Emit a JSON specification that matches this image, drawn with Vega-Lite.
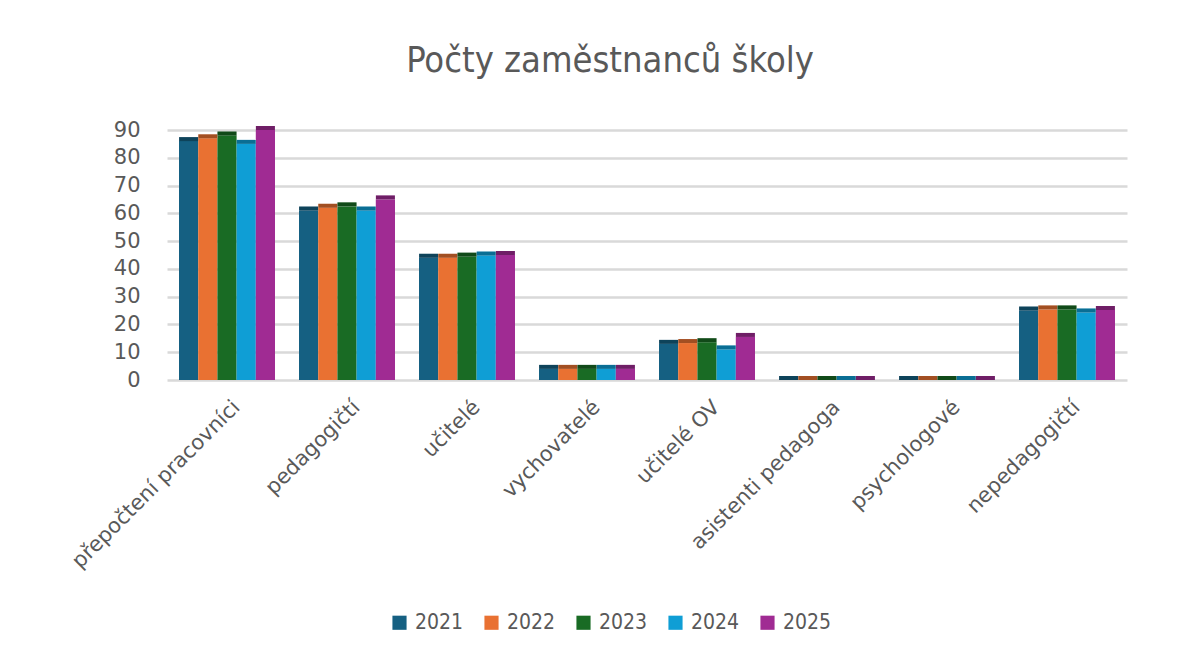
{
  "$schema": "https://vega.github.io/schema/vega-lite/v6.json",
  "autosize": {"type": "none"},
  "width": 960,
  "height": 250,
  "padding": {"left": 167, "top": 130, "right": 69, "bottom": 273},
  "background": "white",
  "title": {
    "text": "Počty zaměstnanců školy",
    "font": "DejaVu Sans Condensed",
    "fontSize": 36,
    "fontWeight": "normal",
    "color": "#595959",
    "anchor": "middle",
    "frame": "group",
    "offset": 39,
    "dx": -37
  },
  "data": {
    "values": [
      {"kategorie": "přepočtení pracovníci", "rok": "2021", "pocet": 86},
      {"kategorie": "přepočtení pracovníci", "rok": "2022", "pocet": 87},
      {"kategorie": "přepočtení pracovníci", "rok": "2023", "pocet": 88},
      {"kategorie": "přepočtení pracovníci", "rok": "2024", "pocet": 85},
      {"kategorie": "přepočtení pracovníci", "rok": "2025", "pocet": 90},
      {"kategorie": "pedagogičtí", "rok": "2021", "pocet": 61},
      {"kategorie": "pedagogičtí", "rok": "2022", "pocet": 62},
      {"kategorie": "pedagogičtí", "rok": "2023", "pocet": 62.5},
      {"kategorie": "pedagogičtí", "rok": "2024", "pocet": 61},
      {"kategorie": "pedagogičtí", "rok": "2025", "pocet": 65},
      {"kategorie": "učitelé", "rok": "2021", "pocet": 44},
      {"kategorie": "učitelé", "rok": "2022", "pocet": 44},
      {"kategorie": "učitelé", "rok": "2023", "pocet": 44.4},
      {"kategorie": "učitelé", "rok": "2024", "pocet": 44.8},
      {"kategorie": "učitelé", "rok": "2025", "pocet": 45},
      {"kategorie": "vychovatelé", "rok": "2021", "pocet": 4},
      {"kategorie": "vychovatelé", "rok": "2022", "pocet": 4},
      {"kategorie": "vychovatelé", "rok": "2023", "pocet": 4},
      {"kategorie": "vychovatelé", "rok": "2024", "pocet": 4},
      {"kategorie": "vychovatelé", "rok": "2025", "pocet": 4},
      {"kategorie": "učitelé OV", "rok": "2021", "pocet": 13},
      {"kategorie": "učitelé OV", "rok": "2022", "pocet": 13.3},
      {"kategorie": "učitelé OV", "rok": "2023", "pocet": 13.6},
      {"kategorie": "učitelé OV", "rok": "2024", "pocet": 11},
      {"kategorie": "učitelé OV", "rok": "2025", "pocet": 15.5},
      {"kategorie": "asistenti pedagoga", "rok": "2021", "pocet": 0},
      {"kategorie": "asistenti pedagoga", "rok": "2022", "pocet": 0},
      {"kategorie": "asistenti pedagoga", "rok": "2023", "pocet": 0},
      {"kategorie": "asistenti pedagoga", "rok": "2024", "pocet": 0},
      {"kategorie": "asistenti pedagoga", "rok": "2025", "pocet": 0},
      {"kategorie": "psychologové", "rok": "2021", "pocet": 0},
      {"kategorie": "psychologové", "rok": "2022", "pocet": 0},
      {"kategorie": "psychologové", "rok": "2023", "pocet": 0},
      {"kategorie": "psychologové", "rok": "2024", "pocet": 0},
      {"kategorie": "psychologové", "rok": "2025", "pocet": 0},
      {"kategorie": "nepedagogičtí", "rok": "2021", "pocet": 25},
      {"kategorie": "nepedagogičtí", "rok": "2022", "pocet": 25.4},
      {"kategorie": "nepedagogičtí", "rok": "2023", "pocet": 25.4},
      {"kategorie": "nepedagogičtí", "rok": "2024", "pocet": 24.3},
      {"kategorie": "nepedagogičtí", "rok": "2025", "pocet": 25.2}
    ]
  },
  "encoding": {
    "x": {
      "field": "kategorie",
      "type": "nominal",
      "sort": null,
      "title": null,
      "scale": {"paddingInner": 0.2, "paddingOuter": 0.1},
      "axis": {
        "labelAngle": -45,
        "labelFont": "DejaVu Sans",
        "labelFontSize": 21,
        "labelColor": "#595959",
        "labelPadding": 16,
        "labelOffset": 2,
        "labelLimit": 400,
        "domain": false,
        "ticks": false,
        "grid": false
      }
    },
    "xOffset": {"field": "rok", "type": "nominal", "sort": null},
    "y": {
      "field": "pocet",
      "type": "quantitative",
      "title": null,
      "scale": {"domain": [0, 90], "nice": false},
      "axis": {
        "values": [0, 10, 20, 30, 40, 50, 60, 70, 80, 90],
        "labelFont": "DejaVu Sans",
        "labelFontSize": 21,
        "labelColor": "#595959",
        "labelPadding": 27,
        "domain": false,
        "ticks": false,
        "gridColor": "#D9D9D9",
        "gridWidth": 2.5
      }
    }
  },
  "layer": [
    {
      "mark": {"type": "bar", "opacity": 1},
      "encoding": {
        "color": {
          "field": "rok",
          "type": "nominal",
          "title": null,
          "scale": {
            "domain": ["2021", "2022", "2023", "2024", "2025"],
            "range": ["#156082", "#E97132", "#196B24", "#0F9ED5", "#A02B93"]
          },
          "legend": {
            "orient": "none",
            "direction": "horizontal",
            "legendX": 222,
            "legendY": 482,
            "symbolType": "square",
            "symbolSize": 200,
            "symbolStrokeWidth": 0,
            "symbolOpacity": 1,
            "labelFont": "DejaVu Sans Condensed",
            "labelFontSize": 21,
            "labelColor": "#595959",
            "labelOffset": 5,
            "columnPadding": 17
          }
        }
      }
    },
    {
      "mark": {"type": "tick", "thickness": 4, "size": 19, "yOffset": -2, "xOffset": 3, "opacity": 1},
      "encoding": {
        "color": {"field": "rok", "type": "nominal"}
      }
    },
    {
      "mark": {"type": "tick", "thickness": 4, "size": 19, "yOffset": -2, "xOffset": 3, "color": "black", "opacity": 0.3},
      "encoding": {}
    }
  ],
  "config": {"view": {"stroke": null}}
}
